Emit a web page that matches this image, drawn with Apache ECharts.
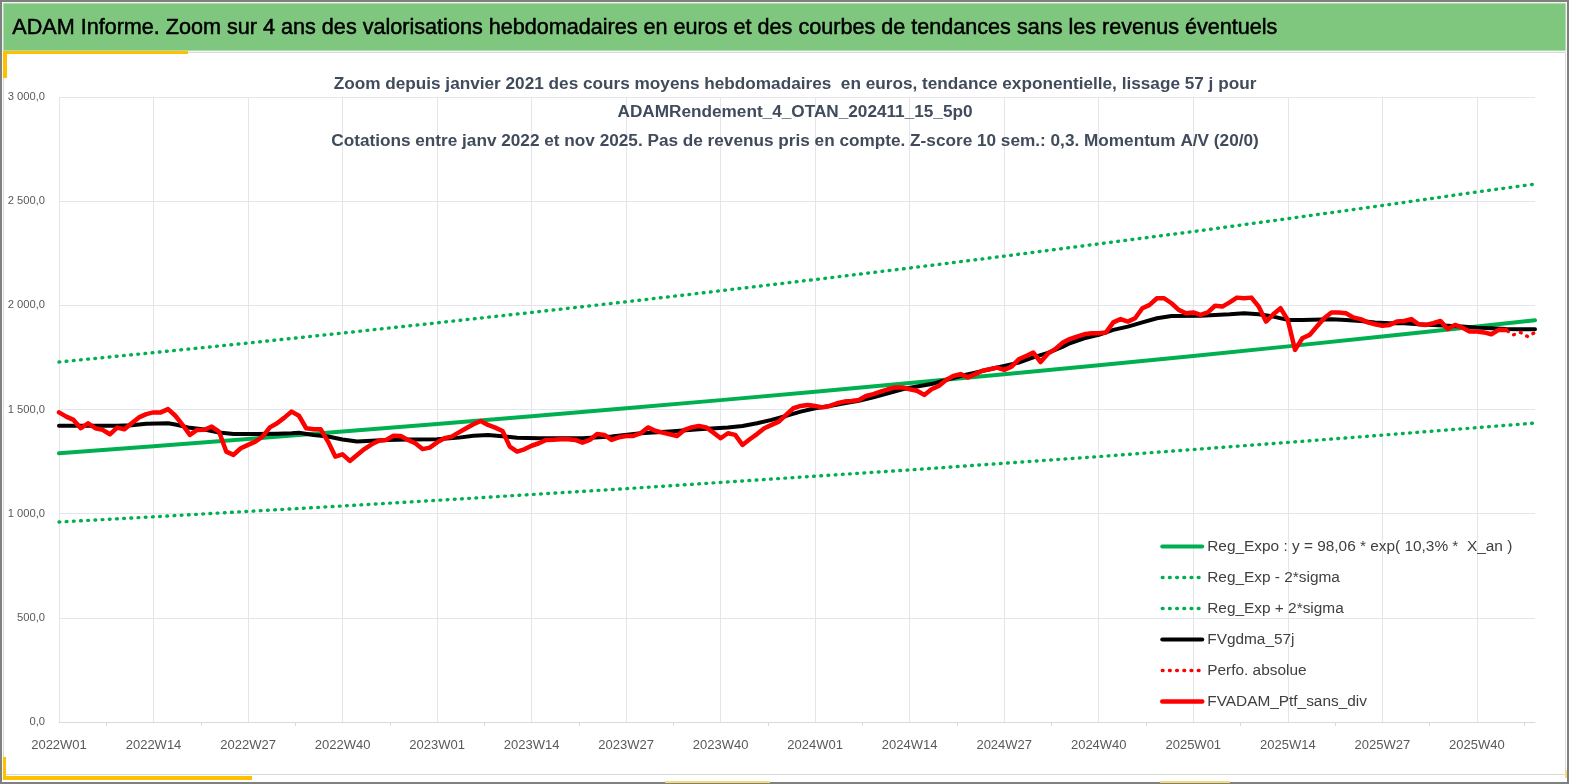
<!DOCTYPE html>
<html>
<head>
<meta charset="utf-8">
<script src="https://cdn.jsdelivr.net/npm/echarts@6/dist/echarts.min.js"></script>
<style>
  html, body { margin: 0; padding: 0; background: #fff; }
  #chart { width: 1569px; height: 784px; }
</style>
</head>
<body>
<div id="chart"></div>
<script>
// Tick labels on the week axis (one every 13 weeks)
const tickLabels = ['2022W01', '2022W14', '2022W27', '2022W40', '2023W01', '2023W14', '2023W27', '2023W40',
    '2024W01', '2024W14', '2024W27', '2024W40', '2025W01', '2025W14', '2025W27', '2025W40'];
const weekStep = 13;
const lastWeek = 203;       // 2025W48
const lastPtfWeek = 199;    // solid red line stops here

// Trend lines read at the tick positions
const trendWeeks = [0, 13, 26, 39, 52, 65, 78, 91, 104, 117, 130, 143, 156, 169, 182, 195, 203];
const regExpo  = [1290, 1324, 1358, 1394, 1430, 1468, 1506, 1545, 1585, 1627, 1669, 1712, 1757, 1803, 1850, 1898, 1928];
const regLower = [960, 985, 1011, 1037, 1064, 1092, 1120, 1150, 1180, 1210, 1242, 1274, 1308, 1342, 1377, 1413, 1435];
const regUpper = [1728, 1773, 1819, 1867, 1916, 1966, 2017, 2070, 2124, 2179, 2236, 2295, 2354, 2416, 2479, 2544, 2582];

// FVgdma_57j (smoothed), read at these weeks
const gdmaWeeks = [0, 4, 8, 10, 12, 15, 16, 18, 20, 22, 24, 27, 30, 32, 33, 35, 37, 39, 41, 43, 45, 48, 52, 55, 57, 59, 61, 63,
    66, 72, 76, 80, 84, 88, 92, 94, 96, 98, 100, 102, 104, 106, 108, 110, 112, 114, 116, 118, 120, 122, 124, 126, 128,
    130, 132, 134, 136, 138, 139, 141, 143, 145, 147, 149, 151, 153, 157, 159, 161, 163, 165, 167, 169, 171, 175, 177,
    179, 181, 183, 185, 187, 189, 191, 193, 195, 197, 199, 201, 203];
const gdmaValues = [1422, 1422, 1422, 1424, 1432, 1434, 1428, 1412, 1404, 1390, 1382, 1382, 1384, 1386, 1388, 1378, 1370,
    1356, 1346, 1350, 1354, 1356, 1357, 1365, 1374, 1378, 1372, 1364, 1362, 1362, 1370, 1386, 1394, 1405, 1414, 1421,
    1434, 1450, 1469, 1490, 1506, 1517, 1530, 1542, 1558, 1578, 1597, 1610, 1622, 1642, 1661, 1677, 1693, 1709, 1725,
    1750, 1772, 1800, 1818, 1842, 1858, 1882, 1898, 1918, 1938, 1949, 1950, 1954, 1957, 1962, 1957, 1946, 1930, 1930,
    1933, 1930, 1925, 1918, 1914, 1914, 1909, 1906, 1902, 1898, 1893, 1890, 1886, 1885, 1885];

// Weekly portfolio value (euros), weeks 0..203
const perfoAbsolue = [
    1486, 1466, 1450, 1410, 1434, 1410, 1402, 1381, 1413, 1405,
    1434, 1462, 1478, 1486, 1486, 1502, 1470, 1426, 1378, 1402,
    1403, 1418, 1394, 1298, 1282, 1314, 1330, 1346, 1370, 1414,
    1434, 1461, 1490, 1470, 1410, 1405, 1405, 1346, 1274, 1285,
    1253, 1282, 1310, 1333, 1350, 1354, 1374, 1373, 1354, 1338,
    1310, 1317, 1342, 1362, 1370, 1390, 1410, 1429, 1445, 1426,
    1413, 1397, 1322, 1298, 1309, 1326, 1338, 1354, 1355, 1357,
    1357, 1354, 1341, 1354, 1382, 1378, 1354, 1366, 1373, 1373,
    1386, 1414, 1398, 1389, 1381, 1373, 1402, 1414, 1421, 1414,
    1389, 1362, 1386, 1378, 1330, 1357, 1382, 1410, 1426, 1442,
    1474, 1506, 1517, 1522, 1517, 1510, 1517, 1530, 1538, 1541,
    1546, 1565, 1574, 1586, 1597, 1606, 1606, 1597, 1590, 1570,
    1597, 1613, 1642, 1661, 1670, 1654, 1670, 1686, 1693, 1701,
    1690, 1706, 1741, 1757, 1773, 1728, 1768, 1790, 1820, 1838,
    1850, 1861, 1866, 1866, 1870, 1918, 1934, 1922, 1938, 1986,
    2002, 2034, 2034, 2010, 1978, 1962, 1966, 1954, 1966, 1998,
    1994, 2014, 2037, 2034, 2037, 1994, 1922, 1957, 1986, 1930,
    1786, 1842, 1858, 1898, 1938, 1966, 1966, 1962, 1942, 1934,
    1918, 1909, 1902, 1906, 1922, 1925, 1934, 1909, 1906, 1914,
    1925, 1886, 1906, 1893, 1874, 1874, 1870, 1861, 1882, 1882,
    1858, 1870, 1850, 1870
];

const seriesNames = [
    'Reg_Expo : y = 98,06 * exp( 10,3% *  X_an )',
    'Reg_Exp - 2*sigma',
    'Reg_Exp + 2*sigma',
    'FVgdma_57j',
    'Perfo. absolue',
    'FVADAM_Ptf_sans_div'
];

const headerText = 'ADAM Informe. Zoom sur 4 ans des valorisations hebdomadaires en euros et des courbes de tendances sans les revenus éventuels';
const titleLines = [
    'Zoom depuis janvier 2021 des cours moyens hebdomadaires  en euros, tendance exponentielle, lissage 57 j pour',
    'ADAMRendement_4_OTAN_202411_15_5p0',
    'Cotations entre janv 2022 et nov 2025. Pas de revenus pris en compte. Z-score 10 sem.: 0,3. Momentum A/V (20/0)'
];

const FONT = "'Liberation Sans', Arial, sans-serif";
const GREEN = '#00B050';
const RED = '#FF0000';
const YELLOW = '#FFC000';

function frNumber(v) {
    const parts = v.toFixed(1).split('.');
    return parts[0].replace(/\B(?=(\d{3})+(?!\d))/g, ' ') + ',' + parts[1];
}

const pairs = (weeks, values) => weeks.map((w, k) => [w, values[k]]);
const dotted = [0.8, 6.4];

function lineSeries(name, data, color, width, type, z) {
    return {
        name: name,
        type: 'line',
        data: data,
        symbol: 'none',
        showSymbol: false,
        silent: true,
        connectNulls: true,
        z: z,
        lineStyle: { color: color, width: width, type: type, cap: 'round', join: 'round' },
        itemStyle: { color: color },
        emphasis: { disabled: true }
    };
}

const chart = echarts.init(document.getElementById('chart'), null, { renderer: 'canvas' });

const option = {
    animation: false,
    backgroundColor: '#ffffff',
    textStyle: { fontFamily: FONT },
    title: {
        text: titleLines.join('\n'),
        left: 790,
        top: 65,
        textAlign: 'center',
        textStyle: { fontFamily: FONT, fontSize: 17.2, fontWeight: 'bold', color: '#404B5C', lineHeight: 28.5 }
    },
    grid: { left: 59, top: 97, width: 1476, height: 625, containLabel: false },
    legend: {
        orient: 'vertical',
        left: 1160,
        top: 539,
        padding: 0,
        itemWidth: 40,
        itemHeight: 14,
        itemGap: 16,
        selectedMode: false,
        data: seriesNames,
        itemStyle: { opacity: 0 },
        lineStyle: { width: 'inherit' },
        textStyle: { fontFamily: FONT, fontSize: 15.4, color: '#404040' }
    },
    xAxis: {
        type: 'value',
        min: 0,
        max: lastWeek,
        interval: weekStep,
        axisLine: { show: true, lineStyle: { color: '#D9D9D9', width: 1 } },
        axisTick: { show: false },
        minorTick: { show: true, splitNumber: 2, length: 4, lineStyle: { color: '#D9D9D9' } },
        splitLine: { show: true, showMinLine: true, showMaxLine: false, lineStyle: { color: '#E4E4EA', width: 1 } },
        axisLabel: {
            showMaxLabel: false,
            margin: 17,
            fontFamily: FONT,
            fontSize: 13,
            color: '#595959',
            formatter: v => (v % weekStep === 0 ? tickLabels[v / weekStep] : '')
        }
    },
    yAxis: {
        type: 'value',
        min: 0,
        max: 3000,
        interval: 500,
        axisLine: { show: false },
        axisTick: { show: false },
        splitLine: { show: true, lineStyle: { color: '#E4E4EA', width: 1 } },
        axisLabel: {
            margin: 14,
            fontFamily: FONT,
            fontSize: 11.2,
            color: '#595959',
            formatter: v => frNumber(v)
        }
    },
    series: [
        lineSeries(seriesNames[1], pairs(trendWeeks, regLower), GREEN, 3.4, dotted, 2),
        lineSeries(seriesNames[2], pairs(trendWeeks, regUpper), GREEN, 3.4, dotted, 2),
        lineSeries(seriesNames[0], pairs(trendWeeks, regExpo), GREEN, 4, 'solid', 3),
        lineSeries(seriesNames[3], pairs(gdmaWeeks, gdmaValues), '#000000', 4, 'solid', 4),
        lineSeries(seriesNames[4], perfoAbsolue.map((v, i) => [i, v]), RED, 3.4, dotted, 5),
        lineSeries(seriesNames[5], perfoAbsolue.slice(0, lastPtfWeek + 1).map((v, i) => [i, v]), RED, 4.5, 'solid', 6)
    ],
    graphic: [
        // outer frame
        { type: 'rect', silent: true, z: 100, shape: { x: 1, y: 1, width: 1567, height: 782 },
          style: { fill: 'none', stroke: '#808080', lineWidth: 2 } },
        // chart area frame
        { type: 'rect', silent: true, z: 99, shape: { x: 3.5, y: 52.5, width: 1562, height: 722 },
          style: { fill: 'none', stroke: '#D9D9D9', lineWidth: 1 } },
        // green header band
        { type: 'rect', silent: true, z: 100, shape: { x: 3, y: 3, width: 1563, height: 48 },
          style: { fill: '#7FC77F', stroke: '#DDEEDD', lineWidth: 1 } },
        { type: 'text', silent: true, z: 101, left: 12, top: 17,
          style: { text: headerText, fontFamily: FONT, fontSize: 21.6, fill: '#000000', stroke: '#000000', lineWidth: 0.5 } },
        // yellow accents
        { type: 'rect', silent: true, z: 101, shape: { x: 3, y: 51, width: 185, height: 3 }, style: { fill: YELLOW } },
        { type: 'rect', silent: true, z: 101, shape: { x: 3, y: 51, width: 4, height: 27 }, style: { fill: YELLOW } },
        { type: 'rect', silent: true, z: 101, shape: { x: 3, y: 757, width: 3, height: 23 }, style: { fill: YELLOW } },
        { type: 'rect', silent: true, z: 101, shape: { x: 3, y: 776, width: 249, height: 4 }, style: { fill: YELLOW } },
        { type: 'rect', silent: true, z: 101, shape: { x: 665, y: 781, width: 105, height: 2 }, style: { fill: '#F3DC7A' } },
        { type: 'rect', silent: true, z: 101, shape: { x: 1160, y: 781, width: 70, height: 2 }, style: { fill: '#F3DC7A' } },
        { type: 'rect', silent: true, z: 101, shape: { x: 1565, y: 770, width: 2, height: 8 }, style: { fill: '#F3DC7A' } }
    ]
};

chart.setOption(option);
</script>
</body>
</html>
